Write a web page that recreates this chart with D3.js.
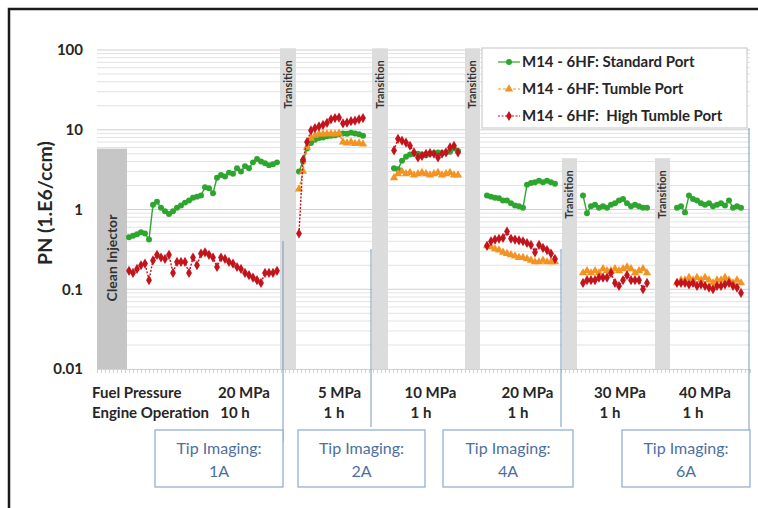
<!DOCTYPE html>
<html>
<head>
<meta charset="utf-8">
<script src="https://cdn.jsdelivr.net/npm/d3@7"></script>
<style>
  body { margin: 0; background: #fff; }
  svg { display: block; font-family: Lato, "Open Sans", sans-serif; }
</style>
</head>
<body>
<svg id="chart" width="758" height="508"></svg>
<script>
// ---- data ----
var seriesNames = ['M14 - 6HF: Standard Port', 'M14 - 6HF: Tumble Port', 'M14 - 6HF:  High Tumble Port'];
var seriesColors = ['#2ea52e', '#f39422', '#c3141e'];

// first point index of every test block (one index per measurement)
var blockStart = [8, 50.5, 74.25, 97.5, 121.5, 145];

var standardPort = [
  [0.45,0.47,0.49,0.52,0.50,0.42,1.15,1.25,1.05,0.95,0.88,0.95,1.05,1.12,1.22,1.3,1.4,1.45,1.5,1.9,1.85,1.6,2.5,2.7,2.6,2.9,2.8,3.3,3.0,3.5,3.3,3.9,4.3,4.0,3.8,3.6,3.7,3.9],
  [3.0,4.0,5.8,6.8,7.5,7.9,8.0,8.3,8.4,8.5,8.8,9.0,8.9,9.2,9.0,8.8,8.4],
  [3.3,3.2,4.1,4.6,4.9,5.0,5.0,4.9,4.8,5.0,5.1,5.2,5.1,5.2,5.3,5.8,5.4],
  [1.5,1.45,1.4,1.38,1.3,1.3,1.2,1.12,1.1,1.05,2.05,2.15,2.2,2.3,2.2,2.3,2.2,2.1],
  [1.5,0.9,1.1,1.15,1.05,1.1,1.05,1.15,1.2,1.3,1.35,1.2,1.1,1.15,1.1,1.05,1.05],
  [1.05,1.1,0.92,1.5,1.35,1.3,1.2,1.15,1.2,1.1,1.15,1.2,1.12,1.3,1.05,1.1,1.05]
];
var tumblePort = [
  [],
  [1.8,3.0,6.0,7.8,8.5,8.8,8.8,8.9,8.9,8.8,9.0,7.0,6.8,7.0,6.7,6.8,6.6],
  [2.5,2.8,3.0,2.8,2.9,2.7,2.8,2.9,2.8,2.7,2.8,2.9,2.7,2.8,2.9,2.7,2.7],
  [0.35,0.34,0.32,0.31,0.29,0.28,0.27,0.26,0.25,0.25,0.24,0.23,0.22,0.22,0.23,0.22,0.22,0.22],
  [0.16,0.17,0.16,0.17,0.16,0.18,0.17,0.17,0.18,0.17,0.18,0.19,0.18,0.16,0.17,0.18,0.16],
  [0.12,0.13,0.13,0.14,0.13,0.14,0.13,0.14,0.13,0.12,0.13,0.13,0.14,0.13,0.12,0.13,0.12]
];
var highTumblePort = [
  [0.17,0.16,0.18,0.20,0.21,0.13,0.23,0.27,0.25,0.24,0.27,0.16,0.22,0.22,0.22,0.16,0.25,0.20,0.28,0.29,0.27,0.25,0.19,0.25,0.24,0.22,0.21,0.19,0.18,0.16,0.15,0.14,0.13,0.12,0.16,0.16,0.16,0.17],
  [0.5,4.2,7.0,9.8,10.5,11.0,11.5,12.2,13.5,14.0,14.2,12.0,12.3,12.8,13.0,13.5,14.0],
  [5.5,7.7,7.3,6.9,6.3,5.2,4.5,4.7,5.0,5.1,5.0,4.5,5.0,5.2,6.0,6.3,5.2],
  [0.35,0.40,0.42,0.43,0.44,0.53,0.43,0.42,0.41,0.40,0.38,0.36,0.29,0.36,0.33,0.31,0.28,0.24],
  [0.12,0.13,0.13,0.13,0.14,0.14,0.14,0.16,0.12,0.11,0.13,0.15,0.13,0.13,0.13,0.10,0.12],
  [0.12,0.12,0.12,0.115,0.12,0.11,0.115,0.11,0.105,0.10,0.11,0.11,0.115,0.12,0.11,0.105,0.09]
];

// grey phases (clean injector + transitions), in index units
var phaseLabels = ['Clean Injector', 'Transition', 'Transition', 'Transition', 'Transition', 'Transition'];
var phaseFrom = [0, 45.75, 68.75, 92, 116.25, 139.5];
var phaseTo = [7.5, 49.75, 72.75, 95.75, 120, 143.25];
var phaseTop = [5.8, 105, 105, 105, 4.4, 4.4];

var yTicks = [0.01, 0.1, 1, 10, 100];
var pressures = ['20 MPa', '5 MPa', '10 MPa', '20 MPa', '30 MPa', '40 MPa'];
var durations = ['10 h', '1 h', '1 h', '1 h', '1 h', '1 h'];
var tipLabels = ['1A', '2A', '4A', '6A'];

// ---- layout ----
var svg = d3.select('#chart');
var x = d3.scaleLinear().domain([0, 163.25]).range([97, 750]);
var y = d3.scaleLog().domain([0.01, 100]).range([369, 50]);

// outer frame (only top and left edges fall in view)
svg.append('rect').attr('x', 9).attr('y', 9).attr('width', 800).attr('height', 560)
  .attr('fill', 'none').attr('stroke', '#1a1a1a').attr('stroke-width', 2.5);

// gridlines
var minor = [];
[0.01, 0.1, 1, 10].forEach(function(d) {
  for (var k = 2; k <= 9; k++) minor.push(d * k);
});
svg.append('g').selectAll('line').data(minor).enter().append('line')
  .attr('x1', x(0)).attr('x2', 750)
  .attr('y1', function(d) { return y(d); }).attr('y2', function(d) { return y(d); })
  .attr('stroke', '#e2e2e2').attr('stroke-width', 1);
svg.append('g').selectAll('line').data(yTicks.slice(1)).enter().append('line')
  .attr('x1', x(0)).attr('x2', 750)
  .attr('y1', function(d) { return y(d); }).attr('y2', function(d) { return y(d); })
  .attr('stroke', '#d0d0d0').attr('stroke-width', 1);

// grey phase bars
var phases = phaseLabels.map(function(l, i) {
  return { label: l, from: phaseFrom[i], to: phaseTo[i], top: phaseTop[i] };
});
svg.append('g').selectAll('rect').data(phases).enter().append('rect')
  .attr('x', function(d) { return x(d.from); })
  .attr('width', function(d) { return x(d.to) - x(d.from); })
  .attr('y', function(d) { return y(d.top); })
  .attr('height', function(d) { return y(0.01) - y(d.top); })
  .attr('fill', function(d, i) { return i == 0 ? '#c6c6c6' : '#dcdcdc'; });
svg.append('g').selectAll('text').data(phases).enter().append('text')
  .attr('transform', function(d, i) {
    var cx = (x(d.from) + x(d.to)) / 2;
    var cy = i == 0 ? 258 : y(d.top) + 12;
    return 'translate(' + cx + ',' + cy + ') rotate(-90)';
  })
  .attr('dy', '0.35em')
  .attr('text-anchor', function(d, i) { return i == 0 ? 'middle' : 'end'; })
  .attr('font-size', function(d, i) { return i == 0 ? 14 : 11; })
  .attr('font-weight', 'bold')
  .attr('fill', '#333')
  .text(function(d) { return d.label; });

// x axis baseline with dense ticks
var xAxis = d3.axisBottom(x).tickValues(d3.range(0, 164, 1)).tickSize(4).tickFormat('');
var gx = svg.append('g').attr('transform', 'translate(0,' + y(0.01) + ')').call(xAxis);
gx.selectAll('line').attr('stroke', '#d2d2d2');
gx.select('.domain').attr('stroke', '#d2d2d2');

// y axis labels
var yAxis = d3.axisLeft(y).tickValues(yTicks).tickSize(0).tickPadding(14)
  .tickFormat(function(d) { return String(d); });
var gy = svg.append('g').attr('transform', 'translate(' + x(0) + ',0)').call(yAxis);
gy.select('.domain').remove();
gy.selectAll('text').attr('font-family', 'Lato, sans-serif').attr('font-size', 15)
  .attr('font-weight', 'bold').attr('fill', '#262626');

svg.append('text')
  .attr('transform', 'translate(45,203) rotate(-90)')
  .attr('dy', '0.35em')
  .attr('text-anchor', 'middle')
  .attr('font-size', 19.5).attr('font-weight', 'bold').attr('fill', '#262626')
  .text('PN (1.E6/ccm)');

// separator lines between operating points
var sepLines = [[283, 241, 442], [371, 249, 427], [561, 249, 427], [749, 128, 430]];
svg.append('g').selectAll('line').data(sepLines).enter().append('line')
  .attr('x1', function(d) { return d[0]; }).attr('x2', function(d) { return d[0]; })
  .attr('y1', function(d) { return d[1]; }).attr('y2', function(d) { return d[2]; })
  .attr('stroke', '#7b97c2').attr('stroke-width', 1);

// ---- series ----
var allSeries = [standardPort, tumblePort, highTumblePort];
var symbols = [d3.symbolCircle, d3.symbolTriangle, d3.symbolDiamond];
var symSize = [28, 30, 30];
var dashes = [null, '3,2', '2,1.5'];
var line = d3.line()
  .x(function(d) { return x(d.i); })
  .y(function(d) { return y(d.v); });

allSeries.forEach(function(blocks, s) {
  var g = svg.append('g');
  blocks.forEach(function(vals, b) {
    if (!vals.length) return;
    var pts = vals.map(function(v, k) { return { i: blockStart[b] + k, v: v }; });
    g.append('path').datum(pts).attr('d', line)
      .attr('fill', 'none').attr('stroke', seriesColors[s]).attr('stroke-width', 1.4)
      .attr('stroke-dasharray', dashes[s]);
    g.selectAll(null).data(pts).enter().append('path')
      .attr('transform', function(d) { return 'translate(' + x(d.i) + ',' + y(d.v) + ')'; })
      .attr('d', d3.symbol().type(symbols[s]).size(symSize[s]))
      .attr('fill', seriesColors[s]);
  });
});

// ---- legend ----
var lg = svg.append('g');
lg.append('rect').attr('x', 482).attr('y', 48).attr('width', 265).attr('height', 80)
  .attr('fill', '#fff').attr('stroke', '#c4c4c4');
seriesNames.forEach(function(n, s) {
  var ly = 62 + s * 27;
  lg.append('line').attr('x1', 498).attr('x2', 520).attr('y1', ly).attr('y2', ly)
    .attr('stroke', seriesColors[s]).attr('stroke-width', 1.2).attr('stroke-dasharray', dashes[s]);
  lg.append('path').attr('transform', 'translate(509,' + ly + ')')
    .attr('d', d3.symbol().type(symbols[s]).size(symSize[s]))
    .attr('fill', seriesColors[s]);
  lg.append('text').attr('x', 522).attr('y', ly).attr('dy', '0.35em')
    .attr('font-size', 15).attr('font-weight', 'bold').attr('fill', '#262626')
    .style('white-space', 'pre')
    .text(n);
});

// ---- bottom annotations ----
var ann = svg.append('g').attr('font-size', 15).attr('font-weight', 'bold').attr('fill', '#262626');
ann.append('text').attr('x', 92).attr('y', 398).text('Fuel Pressure');
ann.append('text').attr('x', 92).attr('y', 418).text('Engine Operation');
var pressCx = [244, 339.5, 430.5, 527.5, 620, 705];
var hourCx = [235, 334, 421, 518, 610, 693];
ann.selectAll('.p').data(pressures).enter().append('text')
  .attr('x', function(d, i) { return pressCx[i]; }).attr('y', 398)
  .attr('text-anchor', 'middle').text(function(d) { return d; });
ann.selectAll('.h').data(durations).enter().append('text')
  .attr('x', function(d, i) { return hourCx[i]; }).attr('y', 418)
  .attr('text-anchor', 'middle').text(function(d) { return d; });

var boxX = [[155, 283], [298, 425], [443, 573], [622, 750]];
var tips = svg.append('g');
tipLabels.forEach(function(t, i) {
  var bx = boxX[i];
  tips.append('rect').attr('x', bx[0]).attr('y', 430).attr('width', bx[1] - bx[0]).attr('height', 57)
    .attr('fill', '#fff').attr('stroke', '#8da7cc').attr('stroke-width', 1.2);
  var cx = (bx[0] + bx[1]) / 2;
  tips.append('text').attr('x', cx).attr('y', 454).attr('text-anchor', 'middle')
    .attr('font-size', 16).attr('fill', '#4d6f9f').text('Tip Imaging:');
  tips.append('text').attr('x', cx).attr('y', 477).attr('text-anchor', 'middle')
    .attr('font-size', 16).attr('fill', '#4d6f9f').text(t);
});
</script>
</body>
</html>
